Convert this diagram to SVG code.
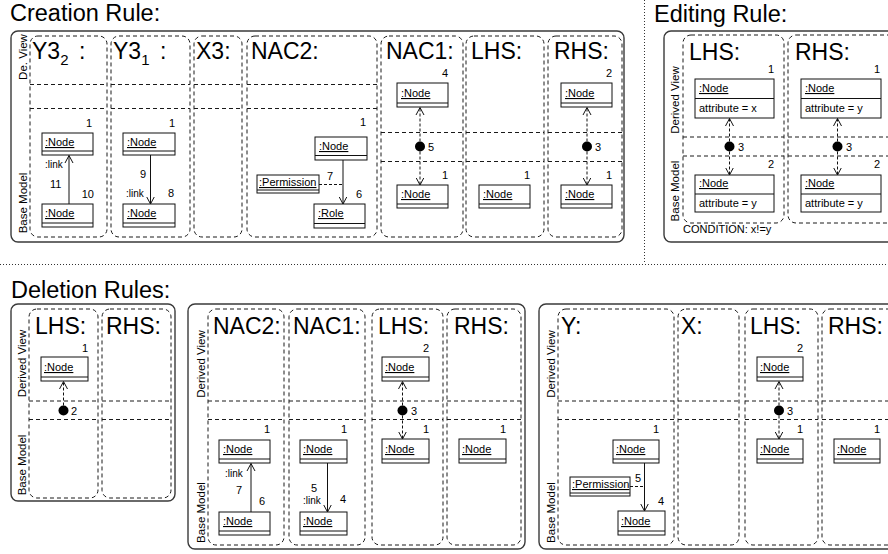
<svg xmlns="http://www.w3.org/2000/svg" width="888" height="554" viewBox="0 0 888 554">
<style>
text{font-family:"Liberation Sans",Arial,sans-serif;fill:#000}
.title{font-size:23.5px}
.ct{font-size:23px}
.sub{font-size:15px}
.side{font-size:11.5px;text-anchor:middle}
.nm{font-size:11px;text-decoration:underline}
.at{font-size:11px}
.num{font-size:11px}
.r{text-anchor:end}
.lk{font-size:10px}
.box{fill:none;stroke:#3a3a3a;stroke-width:1.4}
.col{fill:none;stroke:#1a1a1a;stroke-width:1;stroke-dasharray:4 3}
.node rect{fill:#fff;stroke:#111;stroke-width:1}
.node line{stroke:#111;stroke-width:1}
.conn{stroke:#111;stroke-width:1;fill:none}
.dash{stroke-dasharray:3 2}
.dot{fill:#000}
.sep{stroke:#333;stroke-width:1;stroke-dasharray:1 2;fill:none}
</style>
<defs>
<marker id="ah" markerUnits="userSpaceOnUse" viewBox="0 0 8 10" markerWidth="8" markerHeight="10" refX="7.5" refY="5" orient="auto">
<path d="M0,1 L7.5,5 L0,9" fill="none" stroke="#111" stroke-width="1"/>
</marker>
</defs>

<!-- dotted separators -->
<line class="sep" x1="644.5" y1="0" x2="644.5" y2="263"/>
<line class="sep" x1="0" y1="264.5" x2="888" y2="264.5"/>

<!-- ================= CREATION RULE ================= -->
<g id="creation-rule">
<text class="title" x="10" y="21">Creation Rule:</text>
<rect class="box" x="11" y="31" width="613" height="211" rx="7"/>
<text class="side" transform="rotate(-90 26.5 57)" x="26.5" y="57">De. View</text>
<text class="side" transform="rotate(-90 26.5 203)" x="26.5" y="203">Base Model</text>
<rect class="col" x="30" y="36" width="77" height="201" rx="8"/>
<rect class="col" x="111" y="36" width="79" height="201" rx="8"/>
<rect class="col" x="194" y="36" width="48" height="201" rx="8"/>
<rect class="col" x="247" y="36" width="130" height="201" rx="8"/>
<rect class="col" x="381" y="36" width="82" height="201" rx="8"/>
<rect class="col" x="466" y="36" width="78" height="201" rx="8"/>
<rect class="col" x="548" y="36" width="74" height="201" rx="8"/>
<path class="col" d="M30,84.5H107M111,84.5H190M194,84.5H242M247,84.5H377M30,108.5H107M111,108.5H190M194,108.5H242M247,108.5H377"/>
<path class="col" d="M381,132.5H463M466,132.5H544M548,132.5H622M381,161.5H463M466,161.5H544M548,161.5H622"/>
<text class="ct" x="32" y="59">Y3<tspan class="sub" dy="6">2</tspan><tspan x="79" y="59">:</tspan></text>
<text class="ct" x="113" y="59">Y3<tspan class="sub" dy="6">1</tspan><tspan x="160" y="59">:</tspan></text>
<text class="ct" x="196" y="59">X3:</text>
<text class="ct" x="251" y="59">NAC2:</text>
<text class="ct" x="386" y="59">NAC1:</text>
<text class="ct" x="471" y="59">LHS:</text>
<text class="ct" x="554" y="59">RHS:</text>
</g>

<g id="c-y32-n1" class="node"><rect x="42" y="133" width="51" height="22"/><line x1="42" y1="151" x2="93" y2="151"/><text class="nm" x="45" y="146">:Node</text><text class="num r" x="92" y="127">1</text></g>
<g id="c-y32-n2" class="node"><rect x="42" y="204" width="51" height="23"/><line x1="42" y1="223" x2="93" y2="223"/><text class="nm" x="45" y="217">:Node</text><text class="num r" x="94" y="198">10</text></g>
<g id="c-y31-n1" class="node"><rect x="123" y="133" width="52" height="22"/><line x1="123" y1="151" x2="175" y2="151"/><text class="nm" x="127" y="146">:Node</text><text class="num r" x="175" y="127">1</text></g>
<g id="c-y31-n2" class="node"><rect x="123" y="204" width="52" height="23"/><line x1="123" y1="223" x2="175" y2="223"/><text class="nm" x="127" y="217">:Node</text><text class="num r" x="174" y="197">8</text></g>
<g id="c-nac2-n1" class="node"><rect x="315" y="137" width="52" height="23"/><line x1="315" y1="155.5" x2="367" y2="155.5"/><text class="nm" x="319" y="150">:Node</text><text class="num r" x="366" y="126">1</text></g>
<g id="c-nac2-role" class="node"><rect x="314" y="204" width="51" height="24"/><line x1="314" y1="223.5" x2="365" y2="223.5"/><text class="nm" x="318" y="217">:Role </text><text class="num r" x="362" y="198">6</text></g>
<g id="c-nac2-perm" class="node"><rect x="257" y="175" width="62" height="18"/><line x1="257" y1="190" x2="319" y2="190"/><text class="nm" x="259" y="186">:Permission</text><text class="num" x="327" y="180">7</text></g>
<g id="c-nac1-n1" class="node"><rect x="397" y="83" width="51" height="24"/><line x1="397" y1="103" x2="448" y2="103"/><text class="nm" x="401" y="97">:Node</text><text class="num r" x="448" y="77">4</text></g>
<g id="c-nac1-n2" class="node"><rect x="397" y="185" width="51" height="23"/><line x1="397" y1="204" x2="448" y2="204"/><text class="nm" x="401" y="198">:Node</text><text class="num r" x="448" y="179">1</text></g>
<g id="c-lhs-n1" class="node"><rect x="479" y="185" width="51" height="23"/><line x1="479" y1="204" x2="530" y2="204"/><text class="nm" x="483" y="198">:Node</text><text class="num r" x="530" y="179">1</text></g>
<g id="c-rhs-n2" class="node"><rect x="561" y="83" width="51" height="24"/><line x1="561" y1="103" x2="612" y2="103"/><text class="nm" x="565" y="97">:Node</text><text class="num r" x="612" y="77">2</text></g>
<g id="c-rhs-n1" class="node"><rect x="561" y="185" width="51" height="23"/><line x1="561" y1="204" x2="612" y2="204"/><text class="nm" x="565" y="198">:Node</text><text class="num r" x="612" y="179">1</text></g>

<!-- ================= EDITING RULE ================= -->
<g id="editing-rule">
<text class="title" x="654" y="22">Editing Rule:</text>
<rect class="box" x="664" y="31" width="240" height="211" rx="7"/>
<text class="side" transform="rotate(-90 679 100)" x="679" y="100">Derived View</text>
<text class="side" transform="rotate(-90 679 191)" x="679" y="191">Base Model</text>
<rect class="col" x="683" y="35" width="101" height="188" rx="8"/>
<rect class="col" x="788" y="35" width="110" height="188" rx="8"/>
<path class="col" d="M683,137H784M788,137H898M683,156H784M788,156H898"/>
<text class="ct" x="689" y="60">LHS:</text>
<text class="ct" x="795" y="60">RHS:</text>
<text class="at" x="683" y="233">CONDITION: x!=y</text>
</g>
<g id="e-lhs-n1" class="node"><rect x="695" y="79" width="79" height="39"/><line x1="695" y1="98.5" x2="774" y2="98.5"/><text class="nm" x="699" y="92">:Node</text><text class="at" x="699" y="112">attribute = x</text><text class="num r" x="774" y="73">1</text></g>
<g id="e-lhs-n2" class="node"><rect x="695" y="175" width="79" height="37"/><line x1="695" y1="194" x2="774" y2="194"/><text class="nm" x="699" y="187">:Node</text><text class="at" x="699" y="207">attribute = y</text><text class="num r" x="774" y="168">2</text></g>
<g id="e-rhs-n1" class="node"><rect x="801" y="79" width="80" height="39"/><line x1="801" y1="98.5" x2="881" y2="98.5"/><text class="nm" x="805" y="92">:Node</text><text class="at" x="805" y="112">attribute = y</text><text class="num r" x="880" y="73">1</text></g>
<g id="e-rhs-n2" class="node"><rect x="801" y="175" width="80" height="37"/><line x1="801" y1="194" x2="881" y2="194"/><text class="nm" x="805" y="187">:Node</text><text class="at" x="805" y="207">attribute = y</text><text class="num r" x="880" y="168">2</text></g>

<!-- ================= DELETION RULES ================= -->
<g id="deletion-rules">
<text class="title" x="11" y="298">Deletion Rules:</text>
<!-- box 1 -->
<rect class="box" x="11" y="304" width="164" height="197" rx="7"/>
<text class="side" transform="rotate(-90 26 363.5)" x="26" y="363.5">Derived View</text>
<text class="side" transform="rotate(-90 26 465)" x="26" y="465">Base Model</text>
<rect class="col" x="29" y="309" width="69" height="189" rx="8"/>
<rect class="col" x="102" y="309" width="69" height="189" rx="8"/>
<path class="col" d="M29,401H98M102,401H171M29,419.5H98M102,419.5H171"/>
<text class="ct" x="35" y="334">LHS:</text>
<text class="ct" x="106" y="334">RHS:</text>
<!-- box 2 -->
<rect class="box" x="188" y="304" width="337" height="245" rx="7"/>
<text class="side" transform="rotate(-90 205 364)" x="205" y="364">Derived View</text>
<text class="side" transform="rotate(-90 205 512.5)" x="205" y="512.5">Base Model</text>
<rect class="col" x="208" y="309" width="76" height="236" rx="8"/>
<rect class="col" x="289" y="309" width="76" height="236" rx="8"/>
<rect class="col" x="372" y="309" width="71" height="236" rx="8"/>
<rect class="col" x="447" y="309" width="74" height="236" rx="8"/>
<path class="col" d="M208,401H284M289,401H365M372,401H443M447,401H521M208,419.5H284M289,419.5H365M372,419.5H443M447,419.5H521"/>
<text class="ct" x="213" y="334">NAC2:</text>
<text class="ct" x="293" y="334">NAC1:</text>
<text class="ct" x="378" y="334">LHS:</text>
<text class="ct" x="454" y="334">RHS:</text>
<!-- box 3 -->
<rect class="box" x="539" y="304" width="360" height="245" rx="7"/>
<text class="side" transform="rotate(-90 555 364)" x="555" y="364">Derived View</text>
<text class="side" transform="rotate(-90 555 512.5)" x="555" y="512.5">Base Model</text>
<rect class="col" x="558" y="309" width="116" height="236" rx="8"/>
<rect class="col" x="678" y="309" width="61" height="236" rx="8"/>
<rect class="col" x="745" y="309" width="73" height="236" rx="8"/>
<rect class="col" x="822" y="309" width="80" height="236" rx="8"/>
<path class="col" d="M558,401H674M678,401H739M745,401H818M822,401H902M558,419.5H674M678,419.5H739M745,419.5H818M822,419.5H902"/>
<text class="ct" x="561" y="334">Y:</text>
<text class="ct" x="681" y="334">X:</text>
<text class="ct" x="750" y="334">LHS:</text>
<text class="ct" x="828" y="334">RHS:</text>
</g>
<g id="d1-lhs-n1" class="node"><rect x="41" y="357" width="47" height="24"/><line x1="41" y1="377" x2="88" y2="377"/><text class="nm" x="44" y="371">:Node</text><text class="num r" x="88" y="352">1</text></g>
<g id="d2-nac2-n1" class="node"><rect x="219" y="440" width="51" height="23"/><line x1="219" y1="459" x2="270" y2="459"/><text class="nm" x="223" y="453">:Node</text><text class="num r" x="270" y="433">1</text></g>
<g id="d2-nac2-n2" class="node"><rect x="219" y="512" width="51" height="23"/><line x1="219" y1="531" x2="270" y2="531"/><text class="nm" x="223" y="525">:Node</text><text class="num r" x="265" y="505">6</text></g>
<g id="d2-nac1-n1" class="node"><rect x="300" y="440" width="47" height="23"/><line x1="300" y1="459" x2="347" y2="459"/><text class="nm" x="303" y="453">:Node</text><text class="num r" x="347" y="433">1</text></g>
<g id="d2-nac1-n2" class="node"><rect x="300" y="512" width="47" height="23"/><line x1="300" y1="531" x2="347" y2="531"/><text class="nm" x="303" y="525">:Node</text><text class="num r" x="346" y="503">4</text></g>
<g id="d2-lhs-n2" class="node"><rect x="382" y="357" width="47" height="24"/><line x1="382" y1="377" x2="429" y2="377"/><text class="nm" x="385" y="371">:Node</text><text class="num r" x="429" y="352">2</text></g>
<g id="d2-lhs-n1" class="node"><rect x="382" y="439" width="47" height="24"/><line x1="382" y1="459" x2="429" y2="459"/><text class="nm" x="385" y="453">:Node</text><text class="num r" x="429" y="433">1</text></g>
<g id="d2-rhs-n1" class="node"><rect x="459" y="439" width="47" height="24"/><line x1="459" y1="459" x2="506" y2="459"/><text class="nm" x="462" y="453">:Node</text><text class="num r" x="506" y="433">1</text></g>
<g id="d3-y-n1" class="node"><rect x="613" y="440" width="46" height="23"/><line x1="613" y1="459" x2="659" y2="459"/><text class="nm" x="616" y="453">:Node</text><text class="num r" x="659" y="433">1</text></g>
<g id="d3-y-n2" class="node"><rect x="618" y="511" width="47" height="24"/><line x1="618" y1="531" x2="665" y2="531"/><text class="nm" x="621" y="525">:Node</text><text class="num r" x="664" y="505">4</text></g>
<g id="d3-y-perm" class="node"><rect x="570" y="477" width="60" height="19"/><line x1="570" y1="493" x2="630" y2="493"/><text class="nm" x="572" y="488">:Permission</text><text class="num" x="635" y="482">5</text></g>
<g id="d3-lhs-n2" class="node"><rect x="757" y="357" width="46" height="24"/><line x1="757" y1="377" x2="803" y2="377"/><text class="nm" x="760" y="371">:Node</text><text class="num r" x="803" y="352">2</text></g>
<g id="d3-lhs-n1" class="node"><rect x="757" y="439" width="46" height="24"/><line x1="757" y1="459" x2="803" y2="459"/><text class="nm" x="760" y="453">:Node</text><text class="num r" x="803" y="433">1</text></g>
<g id="d3-rhs-n1" class="node"><rect x="834" y="439" width="46" height="24"/><line x1="834" y1="459" x2="880" y2="459"/><text class="nm" x="837" y="453">:Node</text><text class="num r" x="880" y="433">1</text></g>

<!-- ================= CONNECTORS ================= -->
<g id="connectors">
<line class="conn" x1="69" y1="204" x2="69" y2="155.5" marker-end="url(#ah)"/>
<text class="lk" x="45" y="168">:link</text><text class="num" x="50" y="188">11</text>
<line class="conn" x1="150.5" y1="155" x2="150.5" y2="204" marker-end="url(#ah)"/>
<text class="num" x="140" y="178">9</text><text class="lk" x="126" y="197">:link</text>
<line class="conn" x1="343" y1="160" x2="343" y2="204" marker-end="url(#ah)"/>
<line class="conn dash" x1="319" y1="184.5" x2="343" y2="184.5"/>
<line class="conn dash" x1="420" y1="146.5" x2="420" y2="107.5" marker-end="url(#ah)"/>
<line class="conn dash" x1="420" y1="146.5" x2="420" y2="185" marker-end="url(#ah)"/>
<circle class="dot" cx="420" cy="146.5" r="5"/><text class="num" x="428" y="151">5</text>
<line class="conn dash" x1="587" y1="146.5" x2="587" y2="107.5" marker-end="url(#ah)"/>
<line class="conn dash" x1="587" y1="146.5" x2="587" y2="185" marker-end="url(#ah)"/>
<circle class="dot" cx="587" cy="146.5" r="5"/><text class="num" x="595" y="151">3</text>
<line class="conn dash" x1="729.5" y1="146.5" x2="729.5" y2="118.5" marker-end="url(#ah)"/>
<line class="conn dash" x1="729.5" y1="146.5" x2="729.5" y2="175" marker-end="url(#ah)"/>
<circle class="dot" cx="729.5" cy="146.5" r="5"/><text class="num" x="738" y="151">3</text>
<line class="conn dash" x1="837.5" y1="146.5" x2="837.5" y2="118.5" marker-end="url(#ah)"/>
<line class="conn dash" x1="837.5" y1="146.5" x2="837.5" y2="175" marker-end="url(#ah)"/>
<circle class="dot" cx="837.5" cy="146.5" r="5"/><text class="num" x="846" y="151">3</text>
<line class="conn dash" x1="63.5" y1="410.5" x2="63.5" y2="381.5" marker-end="url(#ah)"/>
<circle class="dot" cx="63.5" cy="410.5" r="5"/><text class="num" x="71" y="415">2</text>
<line class="conn" x1="251" y1="512" x2="251" y2="463.5" marker-end="url(#ah)"/>
<text class="lk" x="225" y="477">:link</text><text class="num" x="236" y="494">7</text>
<line class="conn" x1="327.5" y1="463" x2="327.5" y2="512" marker-end="url(#ah)"/>
<text class="num" x="311" y="492">5</text><text class="lk" x="303" y="504">:link</text>
<line class="conn dash" x1="402.5" y1="410.5" x2="402.5" y2="381.5" marker-end="url(#ah)"/>
<line class="conn dash" x1="402.5" y1="410.5" x2="402.5" y2="439" marker-end="url(#ah)"/>
<circle class="dot" cx="402.5" cy="410.5" r="5"/><text class="num" x="411" y="415">3</text>
<line class="conn" x1="644.5" y1="463" x2="644.5" y2="511" marker-end="url(#ah)"/>
<line class="conn dash" x1="630" y1="486.5" x2="644.5" y2="486.5"/>
<line class="conn dash" x1="779" y1="410.5" x2="779" y2="381.5" marker-end="url(#ah)"/>
<line class="conn dash" x1="779" y1="410.5" x2="779" y2="439" marker-end="url(#ah)"/>
<circle class="dot" cx="779" cy="410.5" r="5"/><text class="num" x="787" y="415">3</text>
</g>
</svg>
